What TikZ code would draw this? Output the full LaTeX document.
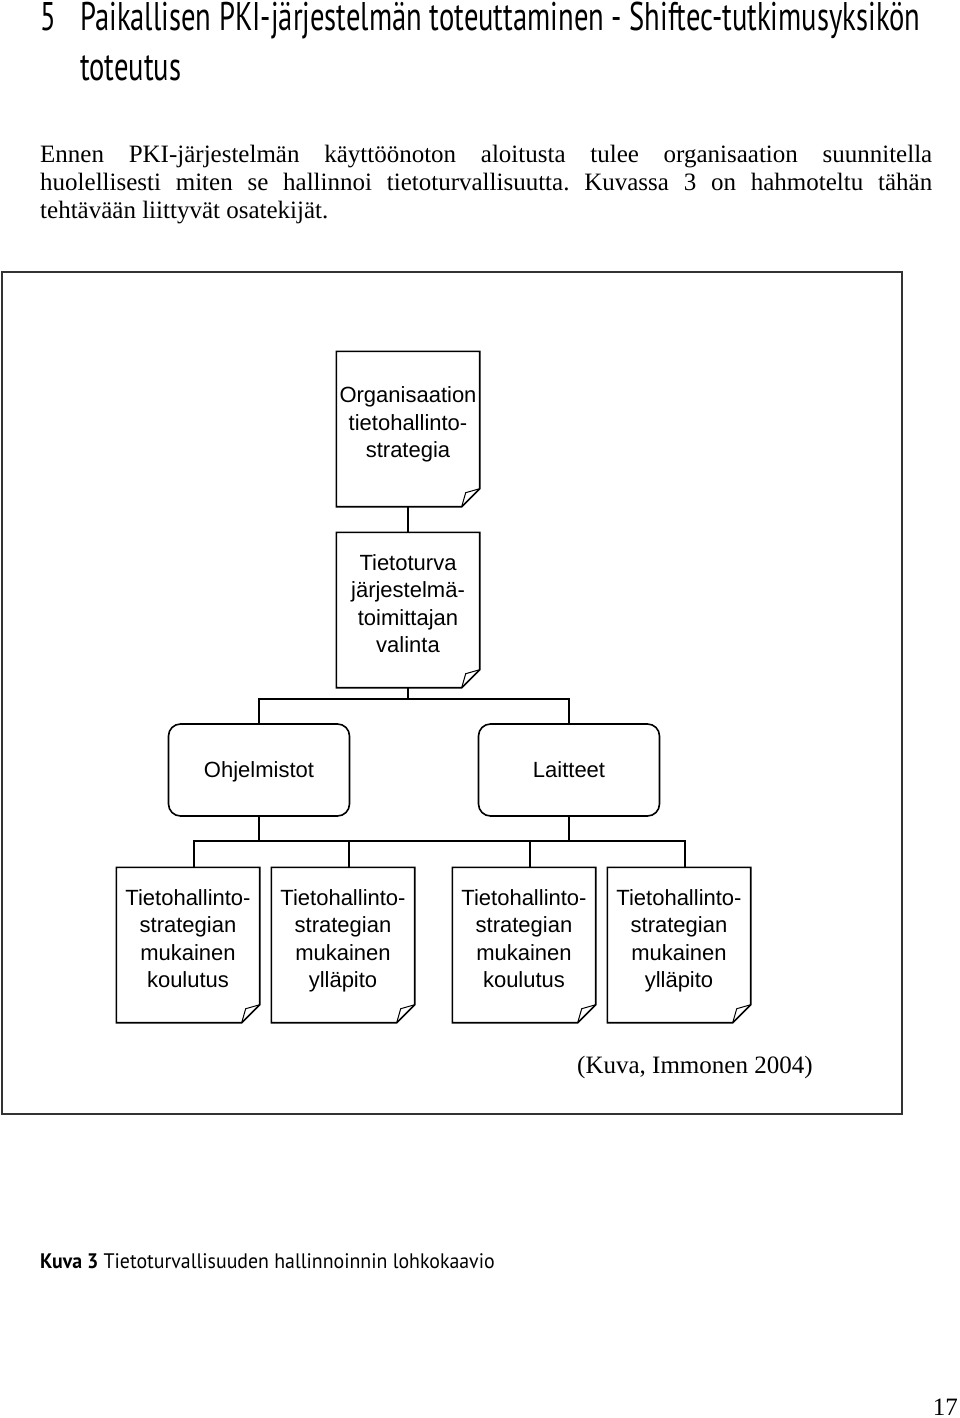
\documentclass[tikz,border=0pt]{standalone}
\usepackage{fontspec}
\setmainfont{Liberation Serif}
\newfontfamily\headfont[FakeStretch=0.715]{PT Sans}
\newfontfamily\capfont[FakeStretch=0.945]{PT Sans}
\newfontfamily\boxfont{Liberation Sans}
\usetikzlibrary{positioning, calc}
\frenchspacing

% page texts and chart parts
\tikzset{
  head/.style={inner sep=0pt, anchor=base west, font=\headfont\fontsize{40}{42}\selectfont},
  body/.style={inner sep=0pt, anchor=base west, font=\fontsize{25}{28}\selectfont},
  caption/.style={inner sep=0pt, anchor=base west, font=\capfont\fontsize{21}{24}\selectfont},
  doc/.style={inner sep=0pt, align=center, minimum width=143pt, minimum height=155pt,
    font=\boxfont\fontsize{22}{27.5}\selectfont},
  group/.style={draw, rounded corners=12pt, line width=1.6pt, inner sep=0pt,
    text height=15pt, text depth=0pt,
    minimum width=181pt, minimum height=92pt, font=\boxfont\fontsize{22}{27.5}\selectfont},
  link/.style={line width=1.6pt},
  frame/.style={draw=black!80, line width=2pt},
}

% outline of a sheet with a turned-up corner
\newcommand\docframe[1]{%
  \draw[line width=1.6pt] (#1.north west) -- (#1.north east)
    -- ($(#1.south east)+(0,-18)$) -- ($(#1.south east)+(-18,0)$)
    -- (#1.south west) -- cycle;
  \draw[line width=1pt] ($(#1.south east)+(-18,0)$) -- ($(#1.south east)+(-14,-14)$)
    -- ($(#1.south east)+(0,-18)$);
}
% keeps the text of a sheet a little above its middle
\newcommand\sink{\rule[-13pt]{0pt}{13pt}}

\begin{document}
\begin{tikzpicture}[x=1pt, y=-1pt]
    \useasboundingbox (0,0) rectangle (960,1418);

    % Heading
    \node[head] (chapnum) at (40,31) {5};
    \node[head] (title1) at (80,31) {Paikallisen PKI-järjestelmän toteuttaminen - Shiftec-tutkimusyksikön};
    \node[head] (title2) at (80,81) {toteutus};

    % Paragraph
    \node[body] (para1) at (40,162) {\makebox[892pt][s]{Ennen PKI-järjestelmän käyttöönoton aloitusta tulee organisaation suunnitella}};
    \node[body] (para2) at (40,190) {\makebox[892pt][s]{huolellisesti miten se hallinnoi tietoturvallisuutta. Kuvassa 3 on hahmoteltu tähän}};
    \node[body] (para3) at (40,218) {tehtävään liittyvät osatekijät.};

    % Figure frame
    \draw[frame] (2,272) rectangle (902,1114);

    % The chart
    \node[doc] (strategy) at (408,429) {Organisaation\\tietohallinto-\\strategia\sink};
    \node[doc] (vendor) at (408,610) {Tietoturva\\järjestelmä-\\toimittajan\\valinta\sink};
    \node[group] (software) at (259,770) {Ohjelmistot};
    \node[group] (hardware) at (569,770) {Laitteet};

    \node[doc] (swtrain) at (188,945) {Tietohallinto-\\strategian\\mukainen\\koulutus\sink};
    \node[doc] (swmaint) at (343,945) {Tietohallinto-\\strategian\\mukainen\\ylläpito\sink};
    \node[doc] (hwtrain) at (524,945) {Tietohallinto-\\strategian\\mukainen\\koulutus\sink};
    \node[doc] (hwmaint) at (679,945) {Tietohallinto-\\strategian\\mukainen\\ylläpito\sink};

    \foreach \n in {strategy, vendor, swtrain, swmaint, hwtrain, hwmaint}
      \docframe{\n};

    % Connectors
    \coordinate (upperbus) at (0,699);
    \coordinate (lowerbus) at (0,841);

    \draw[link] (strategy.south) -- (vendor.north);
    \draw[link] (vendor.south) -- (vendor.south |- upperbus);
    \draw[link] (software.north) -- (software.north |- upperbus)
      -- (hardware.north |- upperbus) -- (hardware.north);

    \foreach \n in {software, hardware}
      \draw[link] (\n.south) -- (\n.south |- lowerbus);
    \draw[link] ([xshift=6pt]swtrain.north) -- ([xshift=6pt]swtrain.north |- lowerbus)
      -- ([xshift=6pt]hwmaint.north |- lowerbus) -- ([xshift=6pt]hwmaint.north);
    \foreach \n in {swmaint, hwtrain}
      \draw[link] ([xshift=6pt]\n.north) -- ([xshift=6pt]\n.north |- lowerbus);

    % Source and caption
    \node[body] (source) at (577,1073) {(Kuva, Immonen 2004)};
    \node[caption] (caption) at (40,1268) {\textbf{Kuva 3} Tietoturvallisuuden hallinnoinnin lohkokaavio};
    \node[body, anchor=base east] (pagenum) at (958,1415) {17};
\end{tikzpicture}
\end{document}
